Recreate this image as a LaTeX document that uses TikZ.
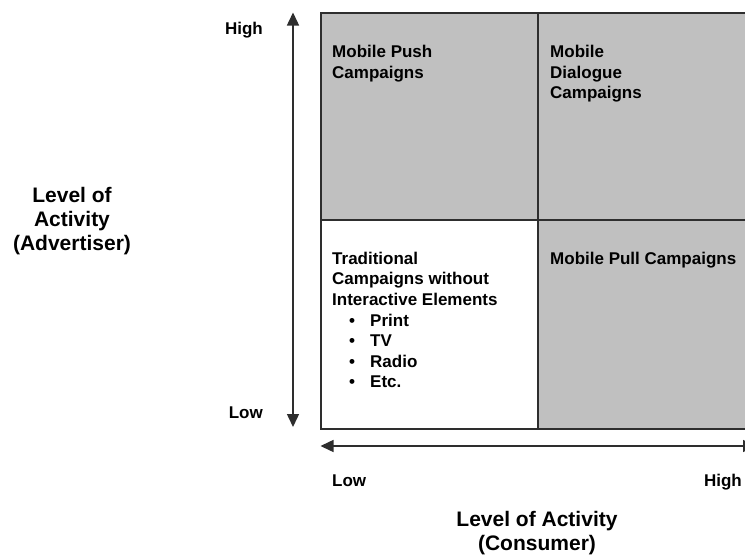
\documentclass[tikz,border=0pt]{standalone}
\usepackage{fontspec}
\setmainfont{Liberation Sans}
\usetikzlibrary{arrows.meta}
\definecolor{quadgray}{HTML}{C0C0C0}
\definecolor{linegray}{HTML}{2E2E2E}
\tikzset{
  quad/.style={draw=linegray, line width=1.6pt, inner sep=0pt, anchor=north west},
  qtext/.style={inner sep=0pt, anchor=base west, font=\fontsize{17}{20.6}\selectfont\bfseries},
  small/.style={inner sep=0pt, font=\fontsize{17}{20.6}\selectfont\bfseries},
  axislab/.style={inner sep=0pt, anchor=base, font=\fontsize{21}{24}\selectfont\bfseries},
  axisarrow/.style={draw=linegray, line width=1.5pt, {Triangle[length=13pt,width=12pt]}-{Triangle[length=13pt,width=12pt]}},
}
\begin{document}
\begin{tikzpicture}[x=1pt,y=-1pt]
\useasboundingbox (0,0) rectangle (745,557);
\clip (0,0) rectangle (745,557);
% quadrants
\node[quad, fill=quadgray, minimum width=217pt, minimum height=207pt] (q1) at (320,12) {};
\node[quad, fill=quadgray, minimum width=230pt, minimum height=207pt] (q2) at (537,12) {};
\node[quad, fill=white, minimum width=217pt, minimum height=209pt] (q3) at (320,219) {};
\node[quad, fill=quadgray, minimum width=230pt, minimum height=209pt] (q4) at (537,219) {};
% quadrant texts
\node[qtext] (t1) at (332,57.7) {\begin{tabular}[t]{@{}l@{}}Mobile Push\\Campaigns\end{tabular}};
\node[qtext] (t2) at (550,57.7) {\begin{tabular}[t]{@{}l@{}}Mobile\\Dialogue\\Campaigns\end{tabular}};
\node[qtext] (t3) at (332,264.3) {\begin{tabular}[t]{@{}l@{}}Traditional\\Campaigns without\\Interactive Elements\\
\hspace*{17pt}\makebox[21pt][l]{\textbullet}Print\\
\hspace*{17pt}\makebox[21pt][l]{\textbullet}TV\\
\hspace*{17pt}\makebox[21pt][l]{\textbullet}Radio\\
\hspace*{17pt}\makebox[21pt][l]{\textbullet}Etc.\end{tabular}};
\node[qtext] (t4) at (550,264.3) {Mobile Pull Campaigns};
% axes
\coordinate (vtop) at (293,12.5);
\coordinate (vbot) at (293,427);
\draw[axisarrow] (vbot) -- (vtop);
\coordinate (hleft) at (320.5,446);
\coordinate (hright) at (756,446);
\draw[axisarrow] (hleft) -- (hright);
% axis end labels
\node[small, anchor=base east] (yhigh) at (263,34) {High};
\node[small, anchor=base east] (ylow) at (263,418) {Low};
\node[small, anchor=base west] (xlow) at (332,486.7) {Low};
\node[small, anchor=base east] (xhigh) at (742,486.7) {High};
% axis titles
\node[axislab] (ytitle) at (72,202) {\begin{tabular}[t]{@{}c@{}}Level of\\Activity\\(Advertiser)\end{tabular}};
\node[axislab] (xtitle) at (537,526.5) {\begin{tabular}[t]{@{}c@{}}Level of Activity\\(Consumer)\end{tabular}};
\end{tikzpicture}
\end{document}
